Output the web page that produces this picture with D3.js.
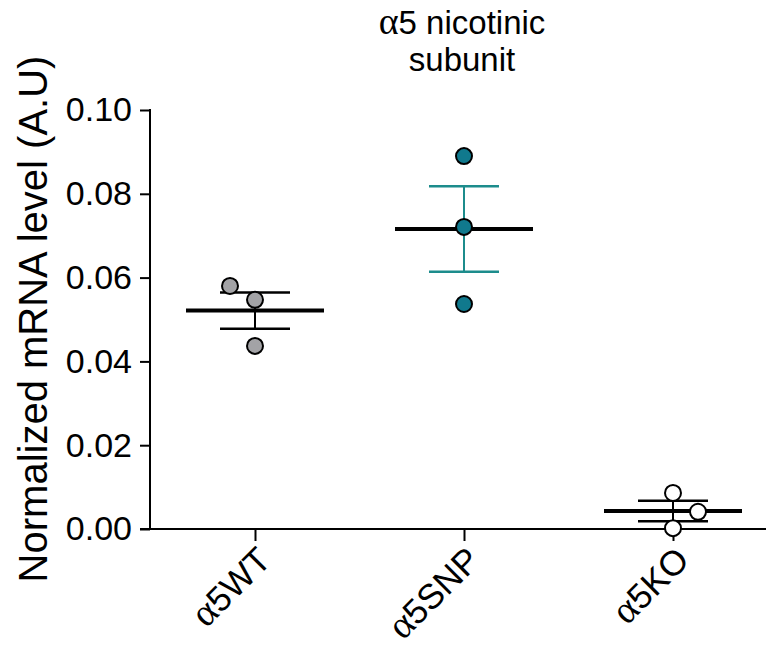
<!DOCTYPE html>
<html>
<head>
<meta charset="utf-8">
<script src="https://cdn.jsdelivr.net/npm/d3@7"></script>
<style>
  body { margin: 0; background: #fff; }
  svg { display: block; font-family: "Liberation Sans", Arial, sans-serif; }
</style>
</head>
<body>
<div id="chart"></div>
<script>
// data
const groups = ["α5WT", "α5SNP", "α5KO"];
const wtValues = [0.0580, 0.0547, 0.0437];
const snpValues = [0.0890, 0.0721, 0.0537];
const koValues = [0.0086, 0.0041, 0.0002];
const yTicks = [0, 0.02, 0.04, 0.06, 0.08, 0.10];

// how Prism spread the overlapping dots (in dot widths)
const spread = [[-1, 0, 0], [0, 0, 0], [0, 1, 0]];

const fills = ["#a3a3a6", "#10798d", "#ffffff"];
const barColors = ["#000", "#1c8c8c", "#000"];

const W = 766, H = 654;

const svg = d3.select("#chart").append("svg")
    .attr("width", W)
    .attr("height", H);

const y = d3.scaleLinear().domain([0, 0.1]).range([529, 110]);
const x = d3.scalePoint().domain(groups).range([255, 673]).padding(0);

// y axis
const yAxis = svg.append("g")
    .attr("transform", "translate(150,0)")
    .call(d3.axisLeft(y).tickValues(yTicks).tickFormat(d3.format(".2f")).tickSize(10).tickPadding(8));
yAxis.select(".domain").remove();
yAxis.selectAll(".tick line").attr("stroke", "#000").attr("stroke-width", 2);
yAxis.selectAll(".tick text")
    .attr("fill", "#000")
    .style("font-size", "34px")
    .style("font-family", '"Liberation Sans", Arial, sans-serif');
svg.append("line")
    .attr("x1", 150).attr("x2", 150)
    .attr("y1", y(0.1) - 1).attr("y2", y(0))
    .attr("stroke", "#000").attr("stroke-width", 2);

// x axis
const xAxis = svg.append("g")
    .attr("transform", `translate(0,${y(0)})`)
    .call(d3.axisBottom(x).tickSize(12).tickFormat(""));
xAxis.select(".domain").remove();
xAxis.selectAll(".tick line").attr("stroke", "#000").attr("stroke-width", 2);
svg.append("line")
    .attr("x1", 140).attr("x2", W)
    .attr("y1", y(0)).attr("y2", y(0))
    .attr("stroke", "#000").attr("stroke-width", 2);

// rotated category labels, alpha in a serif face like the Symbol font
const xl = svg.append("g").selectAll("text")
    .data(groups)
    .enter()
    .append("text")
    .attr("text-anchor", "end")
    .attr("transform", d => `translate(${x(d) + 18},${y(0) + 33}) rotate(-45)`)
    .style("font-size", "35px")
    .attr("fill", "#000");
xl.append("tspan").style("font-family", '"Liberation Serif", serif').style("font-size", "39px").text(d => d.slice(0, 1));
xl.append("tspan").text(d => d.slice(1));

// y label
svg.append("text")
    .attr("text-anchor", "middle")
    .attr("transform", "translate(47,319) rotate(-90)")
    .style("font-size", "40px")
    .attr("fill", "#000")
    .text("Normalized mRNA level (A.U)");

// title
const title = svg.append("text")
    .attr("text-anchor", "middle")
    .attr("transform", `translate(${x("α5SNP") - 2},0)`)
    .style("font-size", "33px")
    .attr("fill", "#000");
const t1 = title.append("tspan").attr("x", 0).attr("y", 34);
t1.append("tspan").style("font-family", '"Liberation Serif", serif').style("font-size", "38px").text("α");
t1.append("tspan").text("5 nicotinic");
title.append("tspan").attr("x", 0).attr("y", 71).text("subunit");

const series = [wtValues, snpValues, koValues].map((vals, i) => {
    const mean = d3.mean(vals);
    const sem = d3.deviation(vals) / Math.sqrt(vals.length);
    return { name: groups[i], vals, mean, sem, i };
});

const g = svg.append("g");

// SEM bars
series.forEach(s => {
    const cx = x(s.name);
    const col = barColors[s.i];
    g.append("line")
        .attr("x1", cx).attr("x2", cx)
        .attr("y1", y(s.mean + s.sem)).attr("y2", y(s.mean - s.sem))
        .attr("stroke", col).attr("stroke-width", 2);
    [s.mean + s.sem, s.mean - s.sem].forEach(v => {
        g.append("line")
            .attr("x1", cx - 35).attr("x2", cx + 35)
            .attr("y1", y(v)).attr("y2", y(v))
            .attr("stroke", col).attr("stroke-width", 2.5);
    });
    // mean
    g.append("line")
        .attr("x1", cx - 69).attr("x2", cx + 69)
        .attr("y1", y(s.mean)).attr("y2", y(s.mean))
        .attr("stroke", "#000").attr("stroke-width", 4);
});

// dots
series.forEach(s => {
    g.selectAll(null)
        .data(s.vals)
        .enter()
        .append("circle")
        .attr("cx", (d, j) => x(s.name) + spread[s.i][j] * 25)
        .attr("cy", d => y(d))
        .attr("r", 8)
        .attr("fill", fills[s.i])
        .attr("stroke", "#000")
        .attr("stroke-width", 2);
});
</script>
</body>
</html>
